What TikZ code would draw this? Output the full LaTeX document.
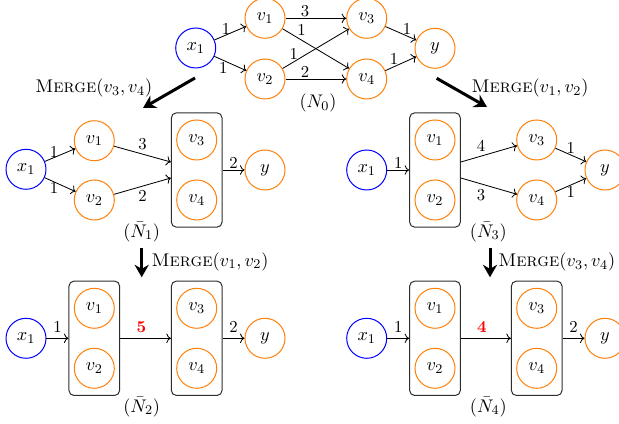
\documentclass[tikz,border=0pt]{standalone}
\usetikzlibrary{arrows.meta,fit,calc}
\definecolor{vorange}{RGB}{255,128,10}
\definecolor{xblue}{RGB}{0,0,255}
\definecolor{boxgray}{RGB}{45,45,45}
\definecolor{wred}{RGB}{255,0,0}
\tikzset{
  every node/.style={font=\fontsize{11}{13}\selectfont},
  neuron/.style={circle, draw=vorange, line width=0.6pt, minimum size=24pt, inner sep=0pt},
  inp/.style={neuron, draw=xblue},
  mbox/.style={draw=boxgray, rounded corners=3pt, line width=0.6pt,
               inner xsep=2.9pt, inner ysep=4pt, fit=#1},
  edge/.style={->, line width=0.5pt},
  w/.style={inner sep=0.8pt, font=\fontsize{10}{12}\selectfont},
  wnew/.style={inner sep=3pt, text=wred, font=\fontsize{10}{12}\selectfont\bfseries},
  merge/.style={-{Stealth[length=7.5pt,width=8.5pt]}, line width=1.8pt},
}
\begin{document}
\begin{tikzpicture}[x=0.6pt, y=-0.6pt]
\useasboundingbox (0,0) rectangle (619,424);

% ---------- N_0 : original network ----------
\node[inp]    (a0x)  at (195.7,48)   {$x_1$};
\node[neuron] (a0v1) at (265,18.3)   {$v_1$};
\node[neuron] (a0v2) at (265,79)     {$v_2$};
\node[neuron] (a0v3) at (366.7,18.3) {$v_3$};
\node[neuron] (a0v4) at (366.7,79)   {$v_4$};
\node[neuron] (a0y)  at (435,48.3)   {$y$};
\draw[edge] (a0x)  -- node[w, pos=0.36, above, inner sep=0pt] {1} (a0v1);
\draw[edge] (a0x)  -- node[w, pos=0.28, below] {1} (a0v2);
\draw[edge] (a0v1) -- node[w, pos=0.32, above] {3} (a0v3);
\draw[edge] (a0v1) -- node[w, pos=0.22, above right, xshift=-1pt] {1} (a0v4);
\draw[edge] (a0v2) -- node[w, pos=0.17, above] {1} (a0v3);
\draw[edge] (a0v2) -- node[w, pos=0.32, above] {2} (a0v4);
\draw[edge] (a0v3) -- node[w, pos=0.70, above] {1} (a0y);
\draw[edge] (a0v4) -- node[w, pos=0.28, above] {1} (a0y);
\node (n0) at (318,103) {$(N_0)$};

% ---------- merge steps from N_0 ----------
\coordinate (ms1) at (195,78);
\coordinate (me1) at (143,108);
\draw[merge] (ms1) -- (me1);
\node (m1) at (93.7,88) {\textsc{Merge}$(v_3,v_4)$};
\coordinate (ms2) at (436.7,78.3);
\coordinate (me2) at (487,107);
\draw[merge] (ms2) -- (me2);
\node (m2) at (530,88) {\textsc{Merge}$(v_1,v_2)$};

% ---------- N_1 : v3, v4 merged ----------
\node[inp]    (a1x)  at (26,169.3)  {$x_1$};
\node[neuron] (a1v1) at (94.3,140.7) {$v_1$};
\node[neuron] (a1v2) at (94.3,200)   {$v_2$};
\node[neuron] (a1v3) at (196.7,140)  {$v_3$};
\node[neuron] (a1v4) at (196.7,200)  {$v_4$};
\node[neuron] (a1y)  at (265,170)    {$y$};
\node[mbox=(a1v3)(a1v4)] (a1b) {};
\draw[edge] (a1x)  -- node[w, pos=0.3, above, inner sep=0pt] {1} (a1v1);
\draw[edge] (a1x)  -- node[w, pos=0.3, below, inner sep=0pt] {1} (a1v2);
\draw[edge] (a1v1) -- node[w, midway, above=1.5pt] {3} ($(a1b.west)+(0,-8)$);
\draw[edge] (a1v2) -- node[w, midway, below=1.5pt] {2} ($(a1b.west)+(0,8)$);
\draw[edge] (a1b)  -- node[w, midway, above] {2} (a1y);
\node (n1) at (141.7,232) {$(\bar{N}_1)$};

% ---------- N_3 : v1, v2 merged ----------
\node[inp]    (a3x)  at (366.7,170)  {$x_1$};
\node[neuron] (a3v1) at (435,140)    {$v_1$};
\node[neuron] (a3v2) at (435,200)    {$v_2$};
\node[neuron] (a3v3) at (536.7,140)  {$v_3$};
\node[neuron] (a3v4) at (536.7,200)  {$v_4$};
\node[neuron] (a3y)  at (605,170)    {$y$};
\node[mbox=(a3v1)(a3v2)] (a3b) {};
\draw[edge] (a3x)  -- node[w, midway, above] {1} (a3b);
\draw[edge] ($(a3b.east)+(0,-8)$) -- node[w, pos=0.36, above=2pt] {4} (a3v3);
\draw[edge] ($(a3b.east)+(0,8)$)  -- node[w, pos=0.36, below=2pt] {3} (a3v4);
\draw[edge] (a3v3) -- node[w, midway, above] {1} (a3y);
\draw[edge] (a3v4) -- node[w, midway, below] {1} (a3y);
\node (n3) at (488.3,232) {$(\bar{N}_3)$};

% ---------- second merge steps ----------
\coordinate (ms3) at (141.7,248.3);
\coordinate (me3) at (141.7,277.3);
\draw[merge] (ms3) -- (me3);
\node (m3) at (210,261.7) {\textsc{Merge}$(v_1,v_2)$};
\coordinate (ms4) at (490,248.3);
\coordinate (me4) at (490,277.3);
\draw[merge] (ms4) -- (me4);
\node (m4) at (556.7,262) {\textsc{Merge}$(v_3,v_4)$};

% ---------- N_2 : both pairs merged (left) ----------
\node[inp]    (a2x)  at (26,338.3)    {$x_1$};
\node[neuron] (a2v1) at (94.3,308.3)  {$v_1$};
\node[neuron] (a2v2) at (94.3,368.3)  {$v_2$};
\node[neuron] (a2v3) at (196.7,308.3) {$v_3$};
\node[neuron] (a2v4) at (196.7,368.3) {$v_4$};
\node[neuron] (a2y)  at (265,338.3)   {$y$};
\node[mbox=(a2v1)(a2v2)] (a2b1) {};
\node[mbox=(a2v3)(a2v4)] (a2b2) {};
\draw[edge] (a2x)  -- node[w, midway, above=2.5pt] {1} (a2b1);
\draw[edge] (a2b1) -- node[wnew, pos=0.42, above] {5} (a2b2);
\draw[edge] (a2b2) -- node[w, midway, above=2.5pt] {2} (a2y);
\node (n2) at (141.7,407) {$(\bar{N}_2)$};

% ---------- N_4 : both pairs merged (right) ----------
\node[inp]    (a4x)  at (366.7,338.3) {$x_1$};
\node[neuron] (a4v1) at (435,308.3)   {$v_1$};
\node[neuron] (a4v2) at (435,368.3)   {$v_2$};
\node[neuron] (a4v3) at (536.7,308.3) {$v_3$};
\node[neuron] (a4v4) at (536.7,368.3) {$v_4$};
\node[neuron] (a4y)  at (605,338.3)   {$y$};
\node[mbox=(a4v1)(a4v2)] (a4b1) {};
\node[mbox=(a4v3)(a4v4)] (a4b2) {};
\draw[edge] (a4x)  -- node[w, midway, above=2.5pt] {1} (a4b1);
\draw[edge] (a4b1) -- node[wnew, pos=0.42, above] {4} (a4b2);
\draw[edge] (a4b2) -- node[w, midway, above=2.5pt] {2} (a4y);
\node (n4) at (488.3,407) {$(\bar{N}_4)$};
\end{tikzpicture}
\end{document}
